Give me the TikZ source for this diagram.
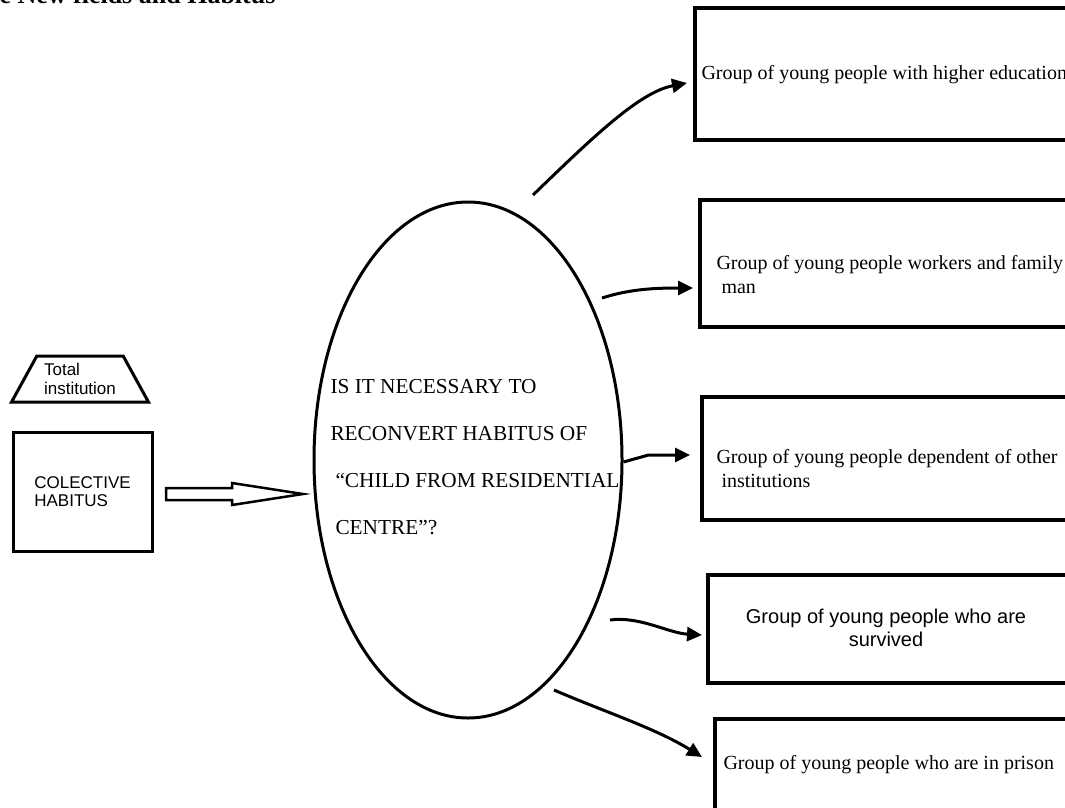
\documentclass[tikz,border=0pt]{standalone}
\usepackage{fontspec}
\setmainfont{Liberation Serif}
\setsansfont{Liberation Sans}
\usetikzlibrary{positioning, shapes.geometric, arrows.meta}

\begin{document}
\begin{tikzpicture}
	[x=1pt, y=-1pt, line width=3pt, >={Triangle[length=15pt,width=14pt]},
	 grp/.style={draw, rectangle, line width=3.5pt, outer sep=0pt, anchor=north west, minimum width=420pt},
	 grptext/.style={anchor=west, align=left, inner sep=0pt, font=\fontsize{20}{24}\selectfont},
	 link/.style={->, line width=3pt}]
   \useasboundingbox (0,0) rectangle (1065,807);
   \clip (0,0) rectangle (1065,807);

   \node[anchor=base west, inner sep=0pt, font=\bfseries\fontsize{26}{30}\selectfont] (title) at (-2,3) {e New fields and Habitus};

   % left side
   \node[draw, trapezium, trapezium angle=58, trapezium stretches=true, minimum width=137pt, minimum height=46pt,
         inner sep=2pt, outer sep=0pt, align=left, font=\sffamily\fontsize{17}{19}\selectfont] (total) at (80,379) {Total\\institution};
   \node[draw, rectangle, outer sep=0pt, anchor=north west, minimum width=139pt, minimum height=119pt,
         align=left, font=\sffamily\fontsize{17}{18}\selectfont] (habitus) at (13,432) {COLECTIVE\\HABITUS};

   % the question
   \node[draw, ellipse, inner sep=0pt, minimum width=308pt, minimum height=516pt] (q) at (468,460) {};
   \node[anchor=west, align=left, inner sep=0pt, font=\fontsize{21.3}{47}\selectfont] (q_text) at (329,457)
        {IS IT NECESSARY TO\\RECONVERT HABITUS OF\\\hspace*{5pt}``CHILD FROM RESIDENTIAL\\\hspace*{5pt}CENTRE''?};

   \draw[line width=2.5pt, line join=miter] ([shift={(14,2.5)}]habitus.east) -- ++(0,-6) -- ++(66,0) -- ++(0,-5)
        -- ++(71,11) -- ++(-71,11) -- ++(0,-5) -- ++(-66,0) -- cycle;

   % groups
   \node[grp, minimum height=132pt] (g_1) at (695,8) {};
   \node[grp, minimum height=127pt] (g_2) at (700,200) {};
   \node[grp, minimum height=123pt] (g_3) at (702,397) {};
   \node[grp, minimum height=108pt] (g_4) at (708,575) {};
   \node[grp, minimum height=140pt] (g_5) at (715,719) {};

   \node[grptext] (t_1) at (700,75) {Group of young people with higher education};
   \node[grptext] (t_2) at (715,275) {Group of young people workers and family\\\hspace*{5pt}man};
   \node[grptext] (t_3) at (715,469) {Group of young people dependent of other\\\hspace*{5pt}institutions};
   \node[grptext, anchor=center, align=center, font=\sffamily\fontsize{20}{23}\selectfont] (t_4) at (886,628)
        {Group of young people who are\\survived};
   \node[grptext] (t_5) at (722,765) {Group of young people who are in prison};

   \coordinate (s_1) at (533,195);
   \coordinate (s_2) at (602,298);
   \coordinate (s_4) at (610,620);
   \coordinate (s_5) at (554,690);

   \draw[link] (s_1) .. controls (595,135) and (640,92) .. ([shift={(-8,9)}]g_1.west);
   \draw[link] (s_2) .. controls (630,289) and (655,288) .. ([shift={(-7,24.5)}]g_2.west);
   \draw[link, shorten >=12pt] ([yshift=-2pt]q.east) -- ++(25,-7) coordinate (b_3) -- (b_3 -| g_3.west);
   \draw[link] (s_4) .. controls (640,616) and (668,633) .. ([shift={(-6,6)}]g_4.west);
   \draw[link] (s_5) .. controls (605,712) and (655,728) .. ([shift={(-13,-32)}]g_5.west);

\end{tikzpicture}
\end{document}
